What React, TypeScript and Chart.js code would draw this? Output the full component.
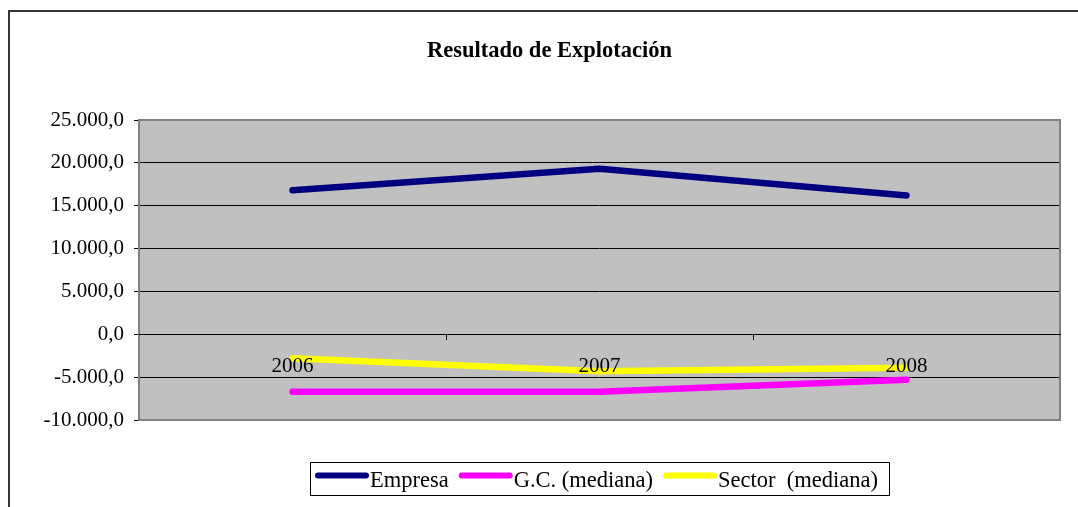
import React, { useEffect, useRef } from 'react';
import { Chart, registerables } from 'chart.js';

Chart.register(...registerables);

const chartTitle = 'Resultado de Explotación';
const years = ['2006', '2007', '2008'];
const seriesNames = ['Empresa', 'G.C. (mediana)', 'Sector  (mediana)'];
const seriesColors = ['#000080', '#FF00FF', '#FFFF00'];
const empresa = [16800, 19300, 16200];
const gcMediana = [-6700, -6700, -5300];
const sectorMediana = [-2800, -4300, -3900];
const yMin = -10000;
const yMax = 25000;
const yStep = 5000;

const FONT = '"Liberation Serif", "Times New Roman", serif';

function fmt(v: number): string {
  const neg = v < 0;
  const abs = Math.abs(v);
  const whole = Math.floor(abs);
  const dec = Math.round((abs - whole) * 10);
  const intStr = whole.toString().replace(/\B(?=(\d{3})+(?!\d))/g, '.');
  return (neg ? '-' : '') + intStr + ',' + dec;
}

// Decorations: outer frame, plot background/border, boxed legend
const decor = {
  id: 'decor',
  beforeDraw(chart: any) {
    const { ctx, chartArea: a } = chart;
    ctx.save();
    ctx.strokeStyle = '#333333';
    ctx.lineWidth = 2;
    ctx.strokeRect(9, 11, chart.width + 40, chart.height + 40);
    ctx.fillStyle = '#C0C0C0';
    ctx.fillRect(a.left, a.top, a.right - a.left, a.bottom - a.top);
    ctx.restore();
  },
  beforeDatasetsDraw(chart: any) {
    const { ctx, chartArea: a } = chart;
    ctx.save();
    ctx.strokeStyle = '#808080';
    ctx.lineWidth = 2;
    ctx.strokeRect(a.left, a.top, a.right - a.left, a.bottom - a.top);
    ctx.restore();
  },
  afterDraw(chart: any) {
    const { ctx, chartArea: a } = chart;
    const fontSize = 22.5;
    const lineLen = 48;
    const lineW = 6;
    const textGap = 4;
    const itemGap = 10;
    const cap = lineW / 2;
    const yc = chart.height - 28.5;
    ctx.save();
    ctx.font = `normal ${fontSize}px ${FONT}`;
    const items = chart.data.datasets.map((ds: any) => ({
      label: ds.label as string,
      color: ds.borderColor as string,
      tw: ctx.measureText(ds.label).width,
    }));
    const itemW = (it: any) => cap + lineLen + textGap + it.tw;
    const contentW =
      items.reduce((s: number, it: any) => s + itemW(it), 0) + itemGap * (items.length - 1);
    const boxW = contentW + 5 + 11;
    const cx = (a.left + a.right) / 2;
    const boxLeft = Math.round(cx - boxW / 2);
    let x = boxLeft + 5;
    ctx.lineCap = 'round';
    ctx.lineWidth = lineW;
    ctx.textAlign = 'left';
    ctx.textBaseline = 'alphabetic';
    for (const it of items) {
      const ly = yc - 3;
      ctx.strokeStyle = it.color;
      ctx.beginPath();
      ctx.moveTo(x + cap, ly);
      ctx.lineTo(x + cap + lineLen, ly);
      ctx.stroke();
      ctx.fillStyle = '#000000';
      const tx = x + cap + lineLen + textGap;
      ctx.fillText(it.label, tx, yc + 8);
      x = tx + it.tw + itemGap;
    }
    ctx.lineWidth = 1;
    ctx.strokeStyle = '#000000';
    ctx.strokeRect(boxLeft + 0.5, Math.round(yc - 16.5) + 0.5, Math.round(boxW), 33);
    ctx.restore();
  },
};

export default function App() {
  const ref = useRef<HTMLCanvasElement | null>(null);

  useEffect(() => {
    if (!ref.current) return;
    const common = {
      borderWidth: 6.5,
      borderCapStyle: 'round',
      borderJoinStyle: 'round',
      pointRadius: 0,
      pointHoverRadius: 0,
      tension: 0,
      fill: false,
    };
    const chart = new Chart(ref.current, {
      type: 'line',
      data: {
        labels: years,
        datasets: [
          { label: seriesNames[0], data: empresa, borderColor: seriesColors[0], backgroundColor: seriesColors[0], ...common },
          { label: seriesNames[1], data: gcMediana, borderColor: seriesColors[1], backgroundColor: seriesColors[1], ...common },
          { label: seriesNames[2], data: sectorMediana, borderColor: seriesColors[2], backgroundColor: seriesColors[2], ...common },
        ],
      } as any,
      options: {
        responsive: false,
        animation: false,
        devicePixelRatio: 1,
        layout: { padding: { left: 39, right: 18, top: 0, bottom: 87 } },
        plugins: {
          title: {
            display: true,
            text: chartTitle,
            color: '#000000',
            font: { family: FONT, size: 22.5, weight: 'bold' },
            padding: { top: 37.5, bottom: 55.5 },
          },
          legend: { display: false },
          tooltip: { enabled: false },
        },
        scales: {
          x: {
            type: 'category',
            position: { y: 0 },
            offset: true,
            grid: {
              offset: true,
              drawOnChartArea: false,
              drawTicks: true,
              tickLength: 5,
              color: '#000000',
            },
            border: { display: true, color: '#000000', width: 1, z: 1 },
            ticks: {
              color: '#000000',
              font: { family: FONT, size: 21 },
              padding: 15,
              z: 1,
              maxRotation: 0,
              autoSkip: false,
            },
          },
          y: {
            type: 'linear',
            position: 'left',
            min: yMin,
            max: yMax,
            ticks: {
              stepSize: yStep,
              callback: (v: any) => fmt(Number(v)),
              color: '#000000',
              font: { family: FONT, size: 21 },
              padding: 10,
            },
            grid: { color: '#000000', lineWidth: 1, tickLength: 5, drawTicks: true },
            border: { display: false },
            afterFit: (s: any) => {
              s.width = 100;
            },
          },
        },
      } as any,
      plugins: [decor as any],
    });
    return () => chart.destroy();
  }, []);

  return (
    <div style={{ position: 'fixed', left: 0, top: 0, width: 1078, height: 507, background: '#ffffff' }}>
      <canvas ref={ref} width={1078} height={507} style={{ display: 'block', width: 1078, height: 507 }} />
    </div>
  );
}
